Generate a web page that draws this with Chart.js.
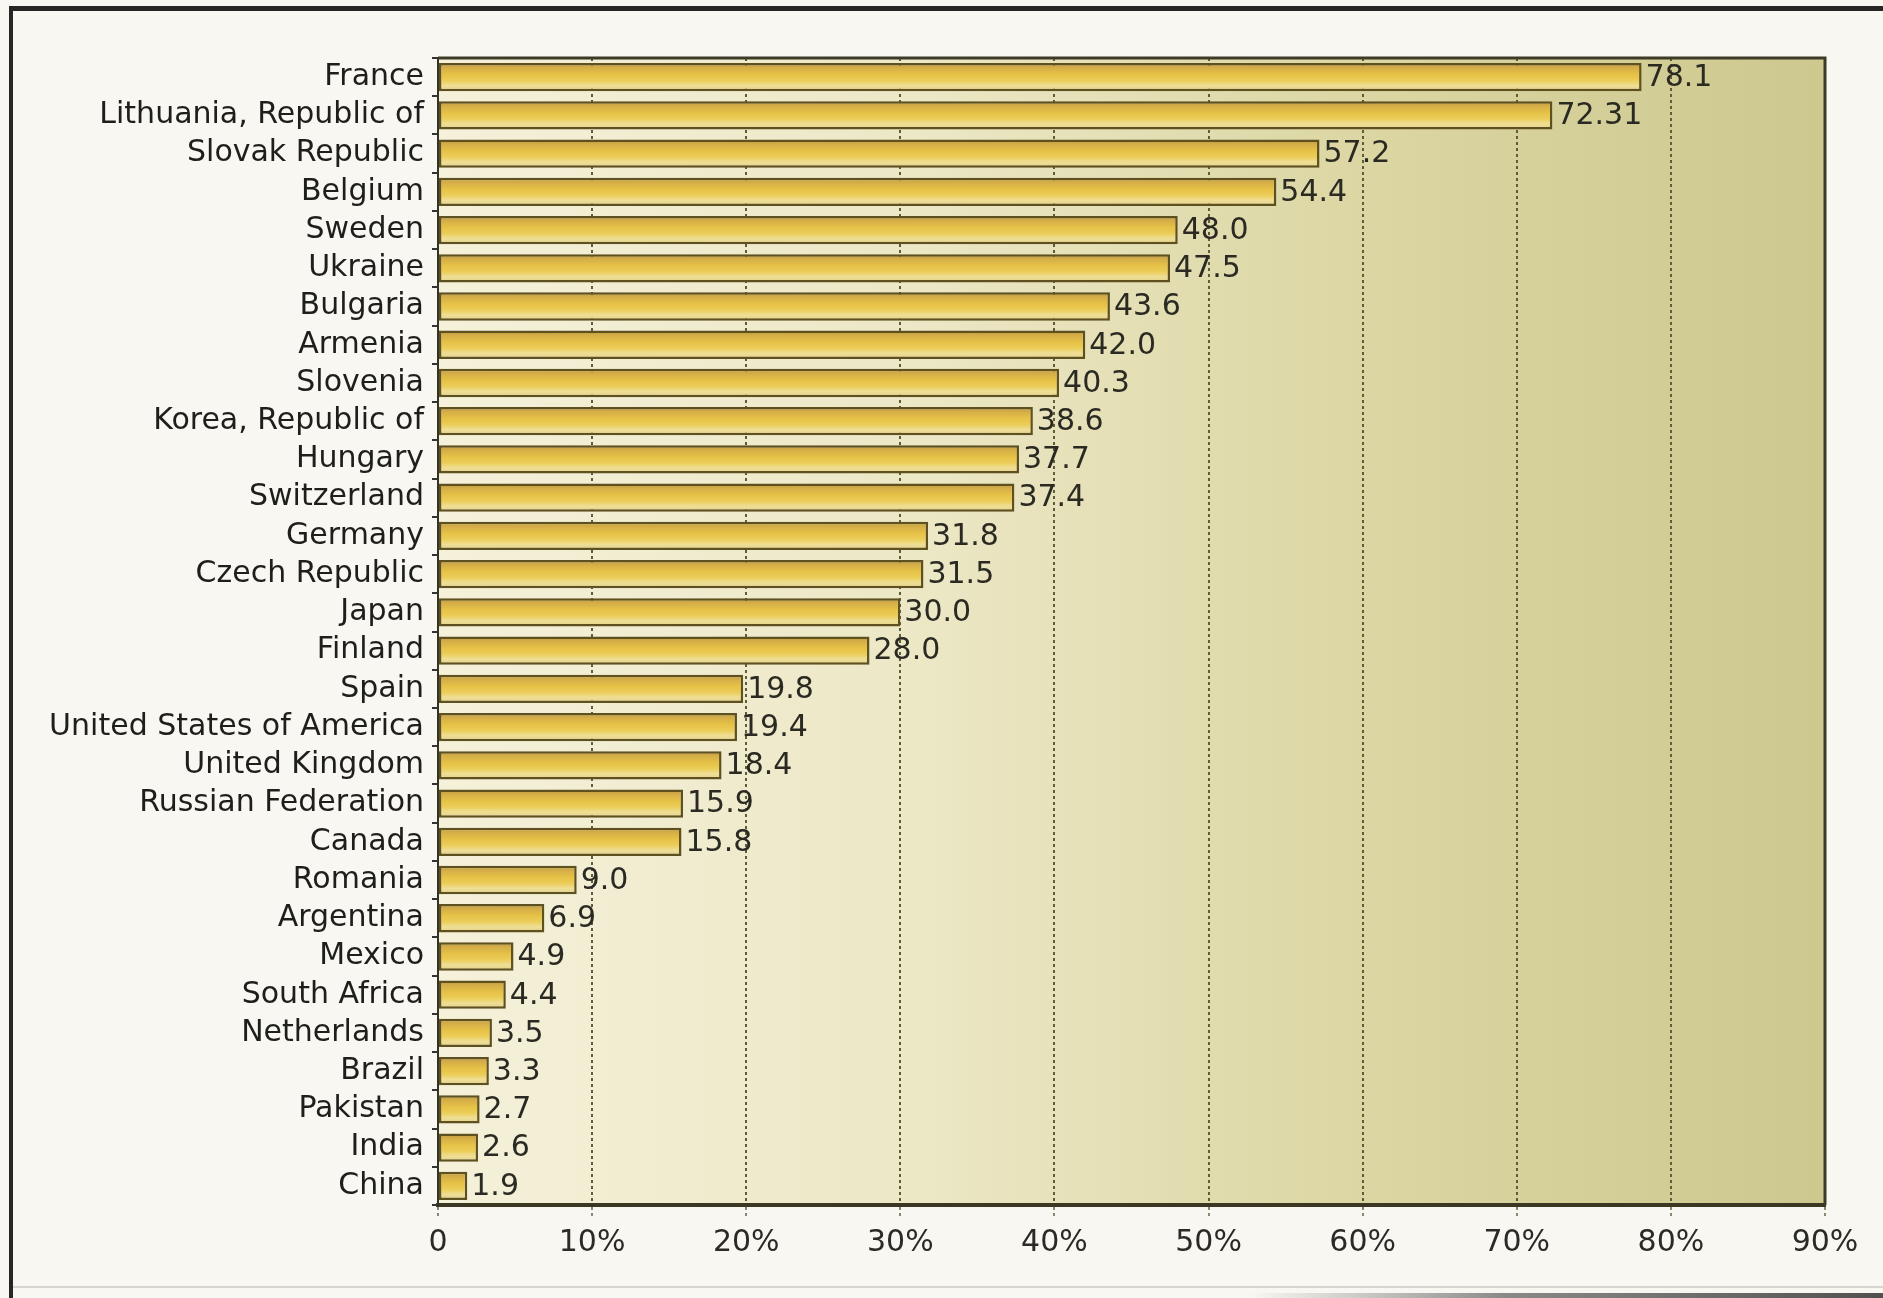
<!DOCTYPE html>
<html>
<head>
<meta charset="utf-8">
<script src="https://cdn.jsdelivr.net/npm/chart.js@4/dist/chart.umd.min.js"></script>
<style>
  html, body { margin: 0; padding: 0; background: #f8f7f1; overflow: hidden; }
  canvas { display: block; }
</style>
</head>
<body>
<canvas id="c" width="1883" height="1298"></canvas>
<script>
const categories = [
  "France", "Lithuania, Republic of", "Slovak Republic", "Belgium", "Sweden",
  "Ukraine", "Bulgaria", "Armenia", "Slovenia", "Korea, Republic of",
  "Hungary", "Switzerland", "Germany", "Czech Republic", "Japan",
  "Finland", "Spain", "United States of America", "United Kingdom", "Russian Federation",
  "Canada", "Romania", "Argentina", "Mexico", "South Africa",
  "Netherlands", "Brazil", "Pakistan", "India", "China"
];
const values = [
  78.1, 72.31, 57.2, 54.4, 48.0,
  47.5, 43.6, 42.0, 40.3, 38.6,
  37.7, 37.4, 31.8, 31.5, 30.0,
  28.0, 19.8, 19.4, 18.4, 15.9,
  15.8, 9.0, 6.9, 4.9, 4.4,
  3.5, 3.3, 2.7, 2.6, 1.9
];
const valueLabels = [
  "78.1", "72.31", "57.2", "54.4", "48.0",
  "47.5", "43.6", "42.0", "40.3", "38.6",
  "37.7", "37.4", "31.8", "31.5", "30.0",
  "28.0", "19.8", "19.4", "18.4", "15.9",
  "15.8", "9.0", "6.9", "4.9", "4.4",
  "3.5", "3.3", "2.7", "2.6", "1.9"
];
const xTickValues = [0, 10, 20, 30, 40, 50, 60, 70, 80, 90];
const xTickLabels = ["0", "10%", "20%", "30%", "40%", "50%", "60%", "70%", "80%", "90%"];

const FONT = "'DejaVu Sans', 'Liberation Sans', sans-serif";
const BAR_PCT = 0.74;

const backgroundPlugin = {
  id: 'bg',
  beforeDraw(chart) {
    const { ctx, chartArea: a, width, height } = chart;
    ctx.save();
    ctx.fillStyle = '#f8f7f1';
    ctx.fillRect(0, 0, width, height);
    const g = ctx.createLinearGradient(a.left, 0, a.right, 0);
    g.addColorStop(0, '#f5f1da');
    g.addColorStop(0.35, '#ece7c5');
    g.addColorStop(0.65, '#dcd7a4');
    g.addColorStop(1, '#cdc88e');
    ctx.fillStyle = g;
    ctx.fillRect(a.left, a.top, a.right - a.left, a.bottom - a.top);
    ctx.restore();
  },
  afterDraw(chart) {
    const { ctx, chartArea: a, width, height } = chart;
    ctx.save();
    ctx.strokeStyle = '#3d3a28';
    ctx.lineWidth = 3;
    ctx.beginPath();
    ctx.moveTo(a.left, a.top);
    ctx.lineTo(a.right, a.top);
    ctx.lineTo(a.right, a.bottom);
    ctx.stroke();
    // scan frame
    ctx.fillStyle = '#262626';
    ctx.fillRect(10, 6, width - 10, 5);
    ctx.fillRect(9, 6, 4, height - 6);
    const bg = ctx.createLinearGradient(1250, 0, width, 0);
    bg.addColorStop(0, 'rgba(120,120,120,0)');
    bg.addColorStop(0.4, 'rgba(110,110,110,0.8)');
    bg.addColorStop(1, 'rgba(80,80,80,1)');
    ctx.fillStyle = bg;
    ctx.fillRect(1250, height - 5, width - 1250, 5);
    ctx.fillStyle = 'rgba(200,200,195,0.7)';
    ctx.fillRect(13, height - 12, width - 13, 2);
    ctx.restore();
  },
  afterDatasetsDraw(chart) {
    const { ctx } = chart;
    const meta = chart.getDatasetMeta(0);
    ctx.save();
    ctx.font = '30px ' + FONT;
    ctx.fillStyle = '#2a2a22';
    ctx.textAlign = 'left';
    ctx.textBaseline = 'middle';
    meta.data.forEach((el, i) => {
      ctx.fillText(valueLabels[i], el.x + 4, el.y + 1);
    });
    ctx.restore();
  }
};

function barFill(context) {
  const chart = context.chart;
  const ys = chart.scales.y;
  if (!ys || !chart.chartArea) return '#e6c04a';
  const band = ys.height / categories.length;
  const cy = ys.getPixelForValue(context.dataIndex);
  const half = band * BAR_PCT / 2;
  const g = chart.ctx.createLinearGradient(0, cy - half, 0, cy + half);
  g.addColorStop(0, '#b89534');
  g.addColorStop(0.15, '#d3ac48');
  g.addColorStop(0.4, '#e6c146');
  g.addColorStop(0.62, '#ebcd58');
  g.addColorStop(0.8, '#efdf96');
  g.addColorStop(1, '#e2cf88');
  return g;
}

new Chart(document.getElementById('c'), {
  type: 'bar',
  data: {
    labels: categories,
    datasets: [{
      data: values,
      backgroundColor: barFill,
      borderColor: '#5f5020',
      borderWidth: 2.5,
      borderSkipped: false,
      barPercentage: BAR_PCT,
      categoryPercentage: 1.0
    }]
  },
  options: {
    indexAxis: 'y',
    responsive: false,
    animation: false,
    events: [],
    layout: { padding: { top: 58, right: 58, bottom: 0, left: 0 } },
    plugins: {
      legend: { display: false },
      tooltip: { enabled: false },
      title: { display: false }
    },
    scales: {
      x: {
        type: 'linear',
        min: 0,
        max: 90,
        afterBuildTicks(scale) {
          scale.ticks = xTickValues.map(v => ({ value: v }));
        },
        afterFit(scale) { scale.height = 93; },
        ticks: {
          callback: (v) => {
            const i = xTickValues.indexOf(v);
            return i >= 0 ? xTickLabels[i] : '';
          },
          font: { family: FONT, size: 30 },
          color: '#2a2a26',
          padding: 8,
          maxRotation: 0,
          autoSkip: false
        },
        grid: {
          color: (c) => (c.tick && (c.tick.value === 0 || c.tick.value === 90)) ? 'rgba(0,0,0,0)' : '#5f5c3c',
          lineWidth: 2,
          tickLength: 12,
          tickColor: '#8a8870',
          tickWidth: 2,
          tickBorderDash: [3, 3]
        },
        border: { color: '#3b3722', width: 4, dash: [3, 3] }
      },
      y: {
        type: 'category',
        afterFit(scale) { scale.width = 438; },
        ticks: {
          font: { family: FONT, size: 30 },
          color: '#1e1e1c',
          padding: 8,
          autoSkip: false
        },
        grid: {
          offset: true,
          drawOnChartArea: false,
          tickLength: 6,
          tickColor: '#333',
          lineWidth: 2
        },
        border: { color: '#333326', width: 2 }
      }
    }
  },
  plugins: [backgroundPlugin]
});
</script>
</body>
</html>
